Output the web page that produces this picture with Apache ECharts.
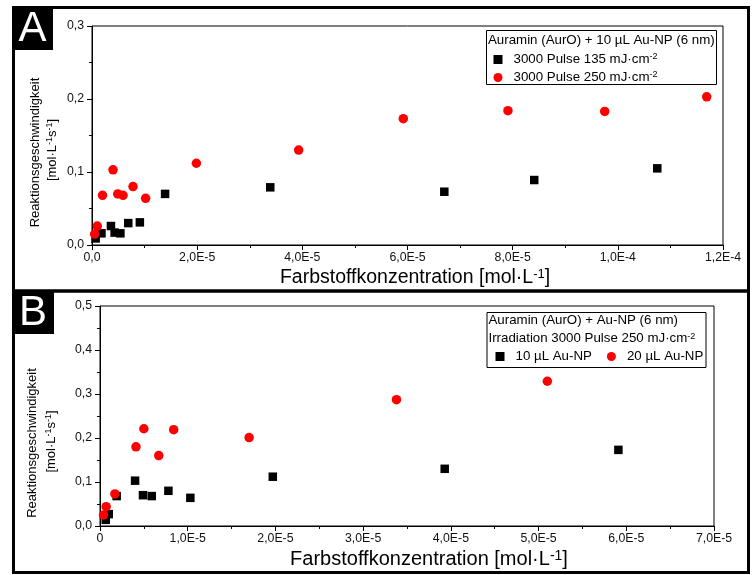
<!DOCTYPE html>
<html><head><meta charset="utf-8">
<script src="https://cdn.jsdelivr.net/npm/echarts@6/dist/echarts.min.js"></script>
<style>html,body{margin:0;padding:0;background:#fff}#c{width:752px;height:575px}</style>
</head><body><div id="c"></div><script>
// Panel A data (x: mol/L, y: mol L^-1 s^-1)
var aX135 = [0.07e-5, 0.18e-5, 0.36e-5, 0.43e-5, 0.54e-5, 0.69e-5, 0.91e-5, 1.39e-5, 3.39e-5, 6.70e-5, 8.41e-5, 10.75e-5];
var aY135 = [0.009, 0.016, 0.026, 0.017, 0.016, 0.030, 0.031, 0.070, 0.079, 0.073, 0.089, 0.105];
var aX250 = [0.05e-5, 0.10e-5, 0.20e-5, 0.40e-5, 0.49e-5, 0.59e-5, 0.78e-5, 1.02e-5, 1.985e-5, 3.93e-5, 5.92e-5, 7.91e-5, 9.75e-5, 11.69e-5];
var aY250 = [0.015, 0.026, 0.068, 0.103, 0.070, 0.068, 0.080, 0.064, 0.112, 0.130, 0.173, 0.184, 0.183, 0.203];
// Panel B data
var bX10 = [0.065e-5, 0.10e-5, 0.19e-5, 0.40e-5, 0.49e-5, 0.59e-5, 0.78e-5, 1.03e-5, 1.97e-5, 3.93e-5, 5.91e-5];
var bY10 = [0.014, 0.027, 0.068, 0.103, 0.070, 0.068, 0.080, 0.064, 0.112, 0.130, 0.173];
var bX20 = [0.04e-5, 0.07e-5, 0.17e-5, 0.41e-5, 0.50e-5, 0.67e-5, 0.84e-5, 1.70e-5, 3.38e-5, 5.10e-5];
var bY20 = [0.025, 0.044, 0.073, 0.180, 0.221, 0.160, 0.219, 0.201, 0.287, 0.329];

var nameA1 = '3000 Pulse 135 mJ·cm-2';
var nameA2 = '3000 Pulse 250 mJ·cm-2';
var nameB1 = '10 µL Au-NP';
var nameB2 = '20 µL Au-NP';
var titleA = 'Auramin (AurO) + 10 µL Au-NP (6 nm)';
var titleB1 = 'Auramin (AurO) + Au-NP (6 nm)';
var titleB2 = 'Irradiation 3000 Pulse 250 mJ·cm{sup|-2}';
var yName1 = 'Reaktionsgeschwindigkeit';
var yName2 = '[mol·L{sup|-1}s{sup|-1}]';
var xName = 'Farbstoffkonzentration [mol·L{sup|-1}]';

function pairs(xs, ys) { return xs.map(function (x, i) { return [x, ys[i]]; }); }
var FONT = '"Liberation Sans", Arial, sans-serif';
function sci(v) {
  var e = Math.floor(Math.log10(v) + 1e-9);
  var m = v / Math.pow(10, e);
  return m.toFixed(1).replace('.', ',') + 'E' + e;
}
function xFmtA(v) { return Math.abs(v) < 1e-12 ? '0,0' : sci(v); }
function xFmtB(v) { return Math.abs(v) < 1e-12 ? '0' : sci(v); }
function yFmt(v) { return v.toFixed(1).replace('.', ','); }

function axisCommon(extra) {
  var o = {
    axisLine: { show: true, onZero: false, lineStyle: { color: '#000', width: 1 } },
    axisTick: { show: true, inside: false, length: 5, lineStyle: { color: '#000' } },
    minorTick: { show: true, splitNumber: 2, length: 3, lineStyle: { color: '#000' } },
    splitLine: { show: false },
    minorSplitLine: { show: false },
    axisLabel: { color: '#111', fontSize: 12.3, fontFamily: FONT, showMinLabel: true, showMaxLabel: true, hideOverlap: false }
  };
  for (var k in extra) {
    if (k === 'axisLabel') { for (var j in extra[k]) o.axisLabel[j] = extra[k][j]; }
    else o[k] = extra[k];
  }
  return o;
}

var supRich = { sup: { fontSize: 9, fontFamily: FONT, fill: '#000', color: '#000', verticalAlign: 'top', lineHeight: 9 } };
function supRichSize(fs) { return { sup: { fontSize: fs, fontFamily: FONT, color: '#000', fill: '#000', verticalAlign: 'top', lineHeight: fs } }; }

function txt(x, y, text, size, opts) {
  opts = opts || {};
  return {
    type: 'text', x: x, y: y, rotation: opts.rot || 0, z: 100,
    style: {
      text: text, fontSize: size, fontFamily: FONT, fill: opts.fill || '#000',
      align: opts.align || 'center', textAlign: opts.align || 'center',
      verticalAlign: 'middle', textVerticalAlign: 'middle',
      rich: supRichSize(Math.round(size * 0.68))
    }
  };
}

var chart = echarts.init(document.getElementById('c'), null, { renderer: 'canvas' });
chart.setOption({
  animation: false,
  backgroundColor: '#fff',
  grid: [
    { left: 92, top: 26, width: 631, height: 219, show: true, borderColor: '#000', borderWidth: 1, backgroundColor: 'transparent' },
    { left: 100, top: 306, width: 614, height: 220, show: true, borderColor: '#000', borderWidth: 1, backgroundColor: 'transparent' }
  ],
  xAxis: [
    axisCommon({ type: 'value', gridIndex: 0, min: 0, max: 1.2e-4, interval: 2e-5, axisLabel: { formatter: xFmtA, margin: 7 } }),
    axisCommon({ type: 'value', gridIndex: 1, min: 0, max: 7e-5, interval: 1e-5, axisLabel: { formatter: xFmtB, margin: 7 } })
  ],
  yAxis: [
    axisCommon({ type: 'value', gridIndex: 0, min: 0, max: 0.3, interval: 0.1, axisLabel: { formatter: yFmt, margin: 8 } }),
    axisCommon({ type: 'value', gridIndex: 1, min: 0, max: 0.5, interval: 0.1, axisLabel: { formatter: yFmt, margin: 8 } })
  ],
  legend: [
    {
      data: [nameA1, nameA2], orient: 'vertical', left: 493.5, top: 52, padding: 0,
      itemWidth: 9, itemHeight: 9, itemGap: 3, selectedMode: false,
      formatter: function (n) { return n.replace('cm-2', 'cm{sup|-2}'); },
      textStyle: { fontSize: 13.3, fontFamily: FONT, color: '#000', lineHeight: 15, padding: [0, 0, 0, 6], rich: supRich }
    },
    {
      data: [nameB1, nameB2], orient: 'horizontal', left: 495.5, top: 349, padding: 0,
      itemWidth: 9, itemHeight: 9, itemGap: 15, selectedMode: false,
      textStyle: { fontSize: 13.3, fontFamily: FONT, color: '#000', lineHeight: 15, padding: [0, 0, 0, 6] }
    }
  ],
  series: [
    { type: 'scatter', name: nameA1, xAxisIndex: 0, yAxisIndex: 0, symbol: 'rect', symbolSize: 8.5, itemStyle: { color: '#000', opacity: 1 }, data: pairs(aX135, aY135) },
    { type: 'scatter', name: nameA2, xAxisIndex: 0, yAxisIndex: 0, symbol: 'circle', symbolSize: 9.5, itemStyle: { color: '#ff0000', opacity: 1 }, data: pairs(aX250, aY250) },
    { type: 'scatter', name: nameB1, xAxisIndex: 1, yAxisIndex: 1, symbol: 'rect', symbolSize: 8.5, itemStyle: { color: '#000', opacity: 1 }, data: pairs(bX10, bY10) },
    { type: 'scatter', name: nameB2, xAxisIndex: 1, yAxisIndex: 1, symbol: 'circle', symbolSize: 9.5, itemStyle: { color: '#ff0000', opacity: 1 }, data: pairs(bX20, bY20) }
  ],
  graphic: [
    // panel frames
    { type: 'rect', z: 90, shape: { x: 13.5, y: 7.5, width: 735, height: 283.5 }, style: { fill: 'none', stroke: '#000', lineWidth: 3 } },
    { type: 'rect', z: 90, shape: { x: 13.5, y: 291, width: 735, height: 281.5 }, style: { fill: 'none', stroke: '#000', lineWidth: 3 } },
    // panel letters
    { type: 'rect', z: 95, shape: { x: 12, y: 6, width: 41, height: 44 }, style: { fill: '#000' } },
    txt(32.5, 29, 'A', 42, { fill: '#fff' }),
    { type: 'rect', z: 95, shape: { x: 12, y: 290, width: 42, height: 44 }, style: { fill: '#000' } },
    txt(33, 313, 'B', 42, { fill: '#fff' }),
    // legend boxes
    { type: 'rect', z: 90, shape: { x: 486.5, y: 30.5, width: 230, height: 54 }, style: { fill: 'none', stroke: '#000', lineWidth: 1 } },
    txt(488, 40, titleA, 13.3, { align: 'left' }),
    { type: 'rect', z: 90, shape: { x: 487, y: 312.5, width: 219, height: 55 }, style: { fill: 'none', stroke: '#000', lineWidth: 1 } },
    txt(488.5, 320.5, titleB1, 13.3, { align: 'left' }),
    txt(488.5, 338.5, titleB2, 13.3, { align: 'left' }),
    // axis names
    txt(35, 152.5, yName1, 13, { rot: Math.PI / 2 }),
    txt(52, 150, yName2, 13, { rot: Math.PI / 2 }),
    txt(415, 278, xName, 19.5),
    txt(32.5, 443, yName1, 13, { rot: Math.PI / 2 }),
    txt(51, 441.5, yName2, 13, { rot: Math.PI / 2 }),
    txt(429, 559, xName, 20)
  ]
});
</script></body></html>
